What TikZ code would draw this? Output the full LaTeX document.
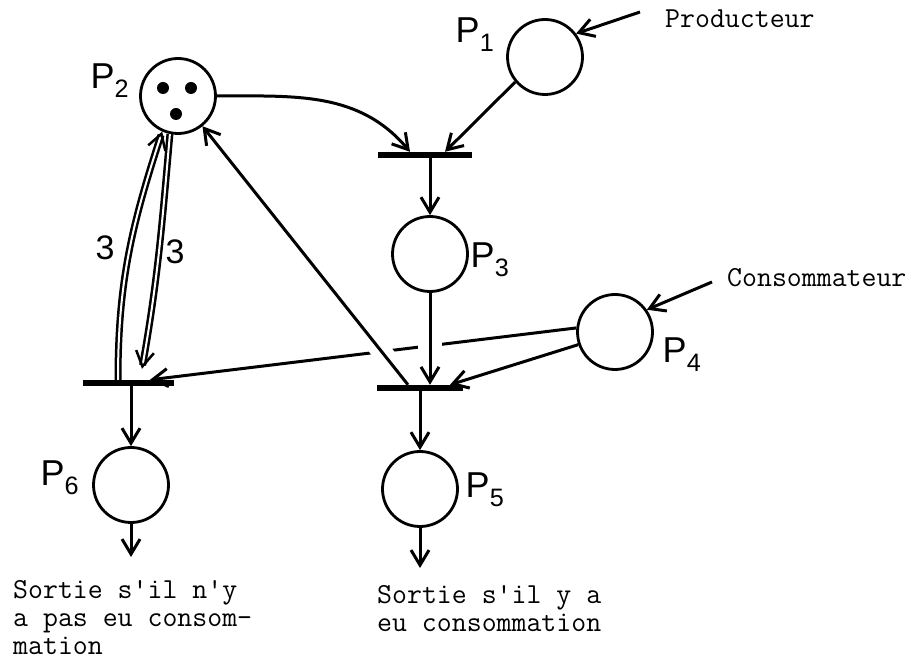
\documentclass[tikz,border=0pt]{standalone}
\usepackage{fontspec}
\newfontfamily\handfont{Liberation Sans}
\usetikzlibrary{arrows.meta,calc}
\pgfdeclarelayer{background}
\pgfsetlayers{background,main}
\begin{document}
\begin{tikzpicture}[x=1pt,y=1pt,
  place/.style={circle,draw,line width=2.8pt,minimum size=75pt,inner sep=0pt},
  trans/.style={rectangle,fill=black,minimum height=6pt,inner sep=0pt},
  arc/.style={line width=3pt,-{Straight Barb[length=15pt,width=18pt,line width=3pt]}},
  darc/.style={double,line width=2.5pt,double distance=2pt,-{Straight Barb[length=15pt,width=18pt,line width=2.5pt]}},
  plabel/.style={font=\handfont\fontsize{36}{36}\selectfont,inner sep=0pt},
  wlabel/.style={font=\handfont\fontsize{34}{34}\selectfont,inner sep=0pt},
  txt/.style={font=\ttfamily\fontsize{29}{28}\selectfont,align=left,inner sep=0pt}
]
\useasboundingbox (0,0) rectangle (915,664);
% places
\node[place] (p1) at (545,607) {};
\node[place] (p2) at (178,568) {};
\node[place] (p3) at (430,410) {};
\node[place] (p4) at (615,332) {};
\node[place] (p5) at (420,175) {};
\node[place] (p6) at (131,179) {};
% tokens
\fill (163,576) circle (6pt);
\fill (191,576) circle (6pt);
\fill (176,550) circle (6pt);
% transitions
\node[trans,minimum width=94pt] (t1) at (425,509) {};
\node[trans,minimum width=86pt] (t2) at (420,276) {};
\node[trans,minimum width=91pt] (t3) at (128,281) {};
% labels
\node[plabel] (l1) at (475,629) {P\textsubscript{1}};
\node[plabel] (l2) at (110,583) {P\textsubscript{2}};
\node[plabel] (l3) at (490,404) {P\textsubscript{3}};
\node[plabel] (l4) at (682,309) {P\textsubscript{4}};
\node[plabel] (l5) at (485,174) {P\textsubscript{5}};
\node[plabel] (l6) at (60,186) {P\textsubscript{6}};
\node[wlabel] (w1) at (105,416) {3};
\node[wlabel] (w2) at (175,412) {3};
% texts
\coordinate (prodin) at (640,652);
\coordinate (consin) at (712,382);
\coordinate (out5) at (420,96);
\coordinate (out6) at (131,107);
\node[txt,anchor=base west] (prod) at (665,636) {Producteur};
\node[txt,anchor=base west] (cons) at (727,377) {Consommateur};
\node[txt,anchor=north west] (s6) at (13,84) {Sortie s'il n'y\\a pas eu consom-\\mation};
\node[txt,anchor=north west] (s5) at (377,79) {Sortie s'il y a\\eu consommation};
% arcs
\draw[arc] (prodin) -- (p1.37);
\draw[arc] (consin) -- (p4.35);
\draw[arc] (p1.220) -- ([xshift=20pt]t1.north);
\draw[arc] (p2.east) to[out=0,in=130] ([xshift=-15pt]t1.north);
\draw[arc] (t1.south -| p3.north) -- (p3.north);
\draw[arc] (p3.south) -- (t2.north -| p3.south);
\draw[arc] (p4.199) -- ([xshift=30pt]t2.north);
\draw[arc] (t2.south -| p5.north) -- (p5.north);
\draw[arc] ([xshift=-12pt]t2.north) -- (p2.-51);
\draw[arc] (t3.south -| p6.north) -- (p6.north);
\draw[arc] (p5.south) -- (out5);
\draw[arc] (p6.south) -- (out6);
\draw[darc] ([xshift=-10pt]t3.north) to[out=90,in=-108] (p2.246);
\draw[darc] (p2.258) to[out=-95,in=80] ([xshift=14pt,yshift=11pt]t3.north);
\begin{pgfonlayer}{background}
\draw[arc] (p4.174) -- ([xshift=22pt]t3.north);
\draw[white,line width=20pt] ([xshift=-12pt]t2.north) -- (p2.-51);
\draw[white,line width=24pt] (p3.south) -- (t2.north -| p3.south);
\end{pgfonlayer}
\end{tikzpicture}
\end{document}
